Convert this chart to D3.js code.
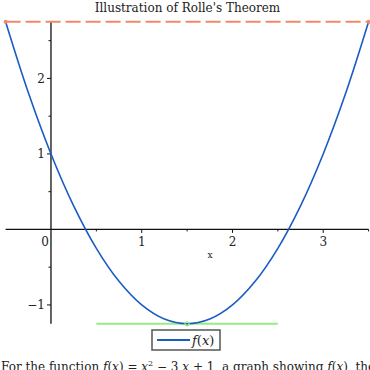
<!DOCTYPE html>
<html lang="en">
<head>
    <meta charset="UTF-8">
    <title>Illustration of Rolle's Theorem</title>
    <style>
        body { margin: 0; overflow: hidden; background: #fff; }
        svg { display: block; }
        text { font-family: "DejaVu Serif", serif; fill: #222; }
    </style>
</head>
<body>
<svg id="chart" width="370" height="370"></svg>

<script src="https://d3js.org/d3.v7.min.js"></script>
<script>
    const curveX = [-0.5, -0.25, 0, 0.25, 0.5, 0.75, 1, 1.25, 1.5, 1.75, 2, 2.25, 2.5, 2.75, 3, 3.25, 3.5];
    const curveY = [2.75, 1.8125, 1, 0.3125, -0.25, -0.6875, -1, -1.1875, -1.25, -1.1875, -1, -0.6875, -0.25, 0.3125, 1, 1.8125, 2.75];

    // endpoints f(a) = f(b) and the point where f'(c) = 0
    const endX = [-0.5, 3.5];
    const endY = [2.75, 2.75];
    const critX = [1.5];
    const critY = [-1.25];
    const tangentX = [0.5, 2.5];

    const xMajor = [0, 1, 2, 3];
    const xMinor = [0.5, 1.5, 2.5, 3.5];
    const yMajor = [-1, 1, 2];
    const yMinor = [-0.5, 0.5, 1.5, 2.5];

    const svg = d3.select("#chart");

    const x = d3.scaleLinear().domain([-0.5, 3.5]).range([5.6, 368.6]);
    const y = d3.scaleLinear().domain([-1.25, 2.75]).range([323.8, 21.8]);

    // title
    svg.append("text")
        .attr("x", 187.5).attr("y", 12)
        .attr("text-anchor", "middle")
        .style("font-size", "12px")
        .text("Illustration of Rolle's Theorem");

    // axes lines
    svg.append("line")
        .attr("x1", x(-0.5)).attr("x2", x(3.5))
        .attr("y1", y(0)).attr("y2", y(0))
        .style("stroke", "#111").style("stroke-width", 1.3);
    svg.append("line")
        .attr("x1", x(0)).attr("x2", x(0))
        .attr("y1", y(2.75)).attr("y2", y(-1.25))
        .style("stroke", "#111").style("stroke-width", 1.3);

    // x ticks
    svg.selectAll(".xmaj").data(xMajor.filter(d => d !== 0)).enter().append("line")
        .attr("x1", d => x(d)).attr("x2", d => x(d))
        .attr("y1", y(0)).attr("y2", y(0) + 3.5)
        .style("stroke", "#111");
    svg.selectAll(".xmin").data(xMinor).enter().append("line")
        .attr("x1", d => x(d)).attr("x2", d => x(d))
        .attr("y1", y(0)).attr("y2", y(0) + 2)
        .style("stroke", "#111");
    svg.selectAll(".xlab").data(xMajor).enter().append("text")
        .attr("x", d => d === 0 ? x(d) - 6 : x(d))
        .attr("y", y(0) + 16.5)
        .attr("text-anchor", "middle")
        .style("font-size", "12px")
        .text(d => d);

    // y ticks
    svg.selectAll(".ymaj").data(yMajor).enter().append("line")
        .attr("x1", x(0) - 4).attr("x2", x(0))
        .attr("y1", d => y(d)).attr("y2", d => y(d))
        .style("stroke", "#111");
    svg.selectAll(".ymin").data(yMinor).enter().append("line")
        .attr("x1", x(0) - 2.5).attr("x2", x(0))
        .attr("y1", d => y(d)).attr("y2", d => y(d))
        .style("stroke", "#111");
    svg.selectAll(".ylab").data(yMajor).enter().append("text")
        .attr("x", x(0) - 6)
        .attr("y", d => y(d) + 4.5)
        .attr("text-anchor", "end")
        .style("font-size", "12px")
        .text(d => d < 0 ? "\u2212" + Math.abs(d) : d);

    // axis label
    svg.append("text")
        .attr("x", 210).attr("y", 258)
        .attr("text-anchor", "middle")
        .style("font-size", "9px")
        .text("x");

    // secant line f(a) = f(b)
    svg.append("line")
        .attr("x1", x(endX[0])).attr("x2", x(endX[1]))
        .attr("y1", y(endY[0])).attr("y2", y(endY[1]))
        .style("stroke", "#f08a68").style("stroke-width", 2)
        .style("stroke-dasharray", "15,5");

    // horizontal tangent at c
    svg.append("line")
        .attr("x1", x(tangentX[0])).attr("x2", x(tangentX[1]))
        .attr("y1", y(critY[0])).attr("y2", y(critY[0]))
        .style("stroke", "#98ec86").style("stroke-width", 2);

    // the curve
    const line = d3.line()
        .x((d, i) => x(curveX[i]))
        .y(d => y(d))
        .curve(d3.curveCatmullRom.alpha(0.5));
    svg.append("path")
        .datum(curveY)
        .attr("d", line)
        .style("fill", "none")
        .style("stroke", "#1a5cc4")
        .style("stroke-width", 1.6);

    // points
    svg.selectAll(".endpt").data(endX).enter().append("circle")
        .attr("cx", d => x(d)).attr("cy", (d, i) => y(endY[i]))
        .attr("r", 2)
        .style("fill", "#f08a68");
    svg.selectAll(".critpt").data(critX).enter().append("circle")
        .attr("cx", d => x(d)).attr("cy", (d, i) => y(critY[i]))
        .attr("r", 2)
        .style("fill", "none")
        .style("stroke", "#98ec86").style("stroke-width", 1.2);

    // legend
    const lg = svg.append("g").attr("transform", "translate(152,330)");
    lg.append("rect")
        .attr("width", 68).attr("height", 20)
        .style("fill", "#fff").style("stroke", "#555").style("stroke-width", 1.5);
    lg.append("line")
        .attr("x1", 5).attr("x2", 38).attr("y1", 10).attr("y2", 10)
        .style("stroke", "#1a5cc4").style("stroke-width", 2);
    lg.append("text")
        .attr("x", 40).attr("y", 15)
        .style("font-size", "13px")
        .html('<tspan font-style="italic">f</tspan>(<tspan font-style="italic">x</tspan>)');

    // caption
    svg.append("text")
        .attr("x", 1).attr("y", 371)
        .style("font-size", "12px")
        .html('For the function <tspan font-style="italic">f</tspan>(<tspan font-style="italic">x</tspan>) = <tspan font-style="italic">x</tspan><tspan dy="-5" font-size="8px">2</tspan><tspan dy="5"> \u2212 3 </tspan><tspan font-style="italic">x</tspan> + 1, a graph showing <tspan font-style="italic">f</tspan>(<tspan font-style="italic">x</tspan>), the horizontal line through its endpoints and the tangent at its minimum.');
</script>
</body>
</html>
